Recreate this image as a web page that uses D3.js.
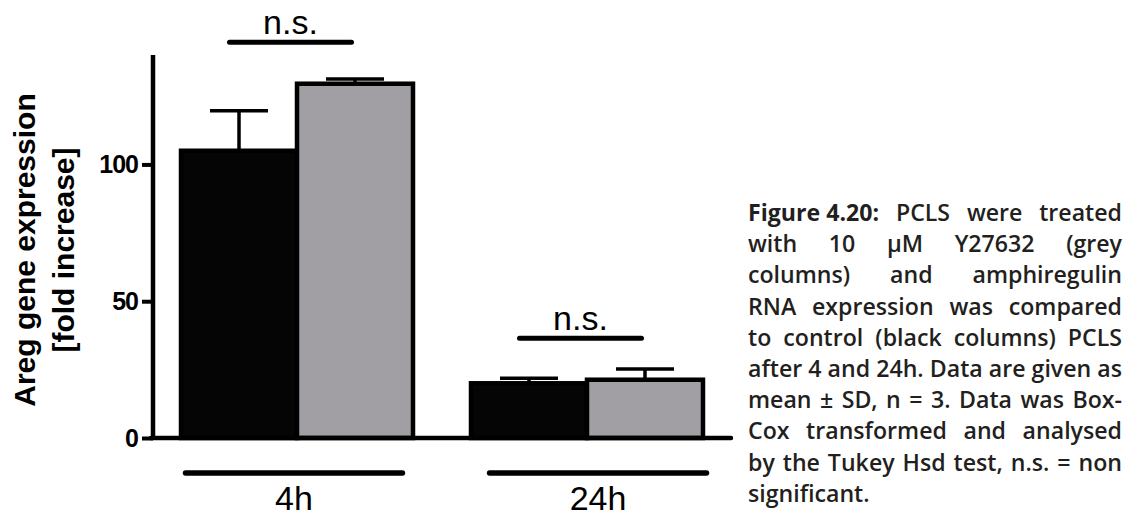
<!DOCTYPE html>
<html><head><meta charset="utf-8">
<script src="https://cdn.jsdelivr.net/npm/d3@7"></script>
<style>body{margin:0;background:#fff} svg{display:block}</style>
</head><body><svg id="c" width="1140" height="517"></svg>
<script>
// ---- data ----
const categories = ["4h", "24h"];
const series = ["control", "Y27632"];
const controlMean = [105, 20];
const controlSD = [14.6, 1.8];
const y27632Mean = [129.5, 21.3];
const y27632SD = [1.7, 3.9];
const yTicks = [0, 50, 100];
const yDomain = [0, 140];
const sigLabels = ["n.s.", "n.s."];
const sigLevel = [144.7, 36.5];
const yTitleLines = ["Areg gene expression", "[fold increase]"];
const captionLines = [
  [["Figure 4.20:", true], ["PCLS", false], ["were", false], ["treated", false]],
  [["with"], ["10"], ["µM"], ["Y27632"], ["(grey"]],
  [["columns)"], ["and"], ["amphiregulin"]],
  [["RNA"], ["expression"], ["was"], ["compared"]],
  [["to"], ["control"], ["(black"], ["columns)"], ["PCLS"]],
  [["after"], ["4"], ["and"], ["24h."], ["Data"], ["are"], ["given"], ["as"]],
  [["mean"], ["±"], ["SD,"], ["n"], ["="], ["3."], ["Data"], ["was"], ["Box-"]],
  [["Cox"], ["transformed"], ["and"], ["analysed"]],
  [["by"], ["the"], ["Tukey"], ["Hsd"], ["test,"], ["n.s."], ["="], ["non"]],
  [["significant."]]
];

const colors = { control: "#050505", Y27632: "#a19fa4" };
const rows = categories.map((c, i) => ({
  cat: c,
  vals: [
    { s: "control", m: controlMean[i], sd: controlSD[i] },
    { s: "Y27632", m: y27632Mean[i], sd: y27632SD[i] }
  ]
}));

const svg = d3.select("#c");
const FONT = "'Liberation Sans', Arial, sans-serif";

const axisX = 153, plotRight = 731, plotTop = 55, plotBottom = 438;

const y = d3.scaleLinear().domain(yDomain).range([plotBottom, plotTop]);
const x0 = d3.scaleBand().domain(categories).range([axisX, plotRight])
  .paddingInner(0.2).paddingOuter(0.0966);
const x1 = d3.scaleBand().domain(series).range([0, x0.bandwidth()]);
const xg = d3.scaleBand().domain(categories).range([183, 709]).paddingInner(0.27);

// ---- bars ----
const g = svg.append("g");
const grp = g.selectAll("g.grp").data(rows).join("g")
  .attr("transform", d => `translate(${x0(d.cat)},0)`);

// error bars (upper only)
grp.selectAll("line.eb").data(d => d.vals).join("line")
  .attr("x1", d => x1(d.s) + x1.bandwidth() / 2)
  .attr("x2", d => x1(d.s) + x1.bandwidth() / 2)
  .attr("y1", d => y(d.m)).attr("y2", d => y(d.m + d.sd))
  .attr("stroke", "#000").attr("stroke-width", 3.5);
grp.selectAll("line.cap").data(d => d.vals).join("line")
  .attr("x1", d => x1(d.s) + x1.bandwidth() / 4)
  .attr("x2", d => x1(d.s) + x1.bandwidth() * 3 / 4)
  .attr("y1", d => y(d.m + d.sd)).attr("y2", d => y(d.m + d.sd))
  .attr("stroke", "#000").attr("stroke-width", 3.5);

grp.selectAll("rect").data(d => d.vals).join("rect")
  .attr("x", d => x1(d.s)).attr("width", x1.bandwidth())
  .attr("y", d => y(d.m)).attr("height", d => y(0) - y(d.m))
  .attr("fill", d => colors[d.s]).attr("stroke", "#000").attr("stroke-width", 4.5);

// ---- axes ----
const yAxis = d3.axisLeft(y).tickValues(yTicks).tickSize(11).tickSizeOuter(0).tickPadding(4);
const ya = svg.append("g").attr("transform", `translate(${axisX},0)`).call(yAxis);
ya.select(".domain").remove();
ya.selectAll(".tick line").attr("stroke", "#000").attr("stroke-width", 4);
ya.selectAll(".tick text").attr("font-family", FONT).attr("font-weight", "bold")
  .attr("font-size", 25).attr("fill", "#000").attr("dy", "0.34em").attr("letter-spacing", -1);
svg.append("line").attr("x1", axisX).attr("x2", axisX)
  .attr("y1", y(yDomain[1])).attr("y2", y(0) + 2)
  .attr("stroke", "#000").attr("stroke-width", 4.5);
svg.append("line").attr("x1", axisX - 2).attr("x2", plotRight)
  .attr("y1", y(0)).attr("y2", y(0))
  .attr("stroke", "#000").attr("stroke-width", 4.5).attr("stroke-linecap", "round");

// y title
yTitleLines.forEach((t, i) => {
  svg.append("text")
    .attr("transform", `translate(${35 + i * 39},250) rotate(-90)`)
    .attr("text-anchor", "middle").attr("font-family", FONT)
    .attr("font-weight", "bold").attr("font-size", 30).attr("fill", "#000")
    .text(t);
});

// ---- significance ----
categories.forEach((c, i) => {
  const cx = x0(c) + x0.bandwidth() / 2 - 6.5;
  const yy = y(sigLevel[i]);
  svg.append("line").attr("x1", cx - 61).attr("x2", cx + 61)
    .attr("y1", yy).attr("y2", yy)
    .attr("stroke", "#000").attr("stroke-width", 5).attr("stroke-linecap", "round");
  svg.append("text").attr("x", cx).attr("y", yy - 8)
    .attr("text-anchor", "middle").attr("font-family", FONT)
    .attr("font-size", 34).attr("fill", "#000").text(sigLabels[i]);
});

// ---- category group lines & labels ----
categories.forEach(c => {
  const a = xg(c), b = xg(c) + xg.bandwidth();
  svg.append("line").attr("x1", a + 2.5).attr("x2", b - 2.5)
    .attr("y1", 473).attr("y2", 473)
    .attr("stroke", "#000").attr("stroke-width", 5.5).attr("stroke-linecap", "round");
  svg.append("text").attr("x", (a + b) / 2).attr("y", 510)
    .attr("text-anchor", "middle").attr("font-family", FONT)
    .attr("font-size", 34).attr("fill", "#000").text(c);
});

// ---- caption (justified, horizontally condensed to mimic Myriad) ----
const capX0 = 748, capX1 = 1122, capY0 = 221, capLH = 31.2;
const CFONT = "'Open Sans', 'Noto Sans', sans-serif";
const capSize = 23.5;
const capOuter = svg.append("g").attr("transform", `translate(${capX0},0)`);
const cap = capOuter.append("g");
function measure(word, bold) {
  const t = cap.append("text").attr("font-family", CFONT)
    .attr("font-weight", bold ? 700 : 600).attr("font-size", capSize).text(word);
  const w = t.node().getComputedTextLength();
  t.remove();
  return w;
}
const spaceW = measure("a a", false) - measure("aa", false);
let maxNat = 0;
captionLines.forEach(line => {
  const w = d3.sum(line, w => measure(w[0], w[1])) + spaceW * (line.length - 1);
  maxNat = Math.max(maxNat, w);
});
const availPx = capX1 - capX0;
const sx = Math.min(1, availPx / maxNat);
cap.attr("transform", `scale(${sx},1)`);
const avail = availPx / sx;
captionLines.forEach((line, li) => {
  const widths = line.map(w => measure(w[0], w[1]));
  const last = li === captionLines.length - 1;
  const gap = (last || line.length < 2) ? spaceW : (avail - d3.sum(widths)) / (line.length - 1);
  let xx = 0;
  line.forEach((w, k) => {
    cap.append("text").attr("x", xx).attr("y", capY0 + li * capLH)
      .attr("font-family", CFONT).attr("font-weight", w[1] ? 700 : 600)
      .attr("font-size", capSize).attr("fill", "#231f20").text(w[0]);
    xx += widths[k] + gap;
  });
});
</script>
</body></html>
